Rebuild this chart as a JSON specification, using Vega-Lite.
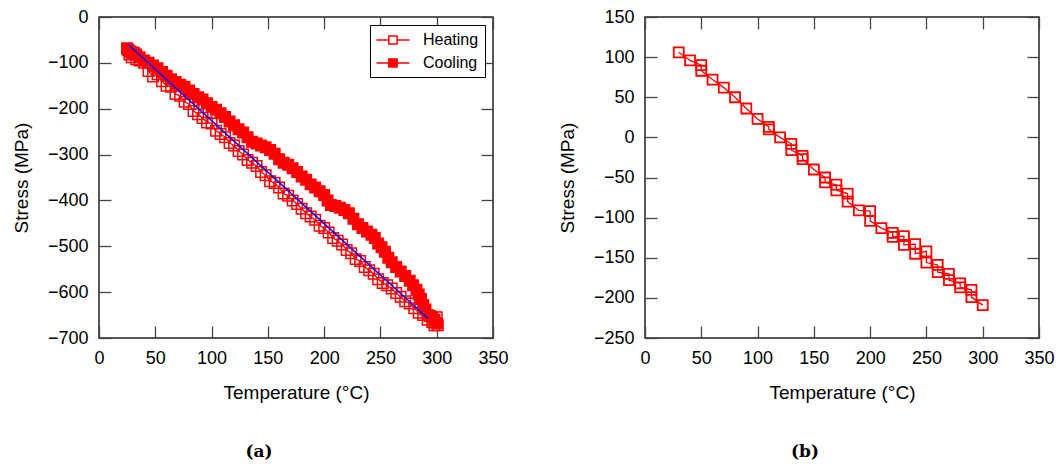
{
  "$schema": "https://vega.github.io/schema/vega-lite/v6.json",
  "padding": {"left": 11, "top": 7, "right": 0, "bottom": 0},
  "background": "white",
  "spacing": 48,
  "resolve": {"legend": {"stroke": "independent", "fill": "independent"}, "scale": {"stroke": "independent", "fill": "independent"}},
  "datasets": {
    "left": [
      {"series":"Heating","idx":0,"temp":25,"stress":-70},{"series":"Heating","idx":1,"temp":27,"stress":-82},{"series":"Heating","idx":2,"temp":29,"stress":-88},{"series":"Heating","idx":3,"temp":31,"stress":-78},{"series":"Heating","idx":4,"temp":33,"stress":-92},{"series":"Heating","idx":5,"temp":36,"stress":-95},{"series":"Heating","idx":6,"temp":40,"stress":-100},{"series":"Heating","idx":7,"temp":44,"stress":-118},{"series":"Heating","idx":8,"temp":48,"stress":-130},{"series":"Heating","idx":9,"temp":52,"stress":-125},{"series":"Heating","idx":10,"temp":56,"stress":-140},{"series":"Heating","idx":11,"temp":60,"stress":-150},{"series":"Heating","idx":12,"temp":64,"stress":-152},{"series":"Heating","idx":13,"temp":68,"stress":-168},{"series":"Heating","idx":14,"temp":72,"stress":-172},{"series":"Heating","idx":15,"temp":76,"stress":-185},{"series":"Heating","idx":16,"temp":80,"stress":-190},{"series":"Heating","idx":17,"temp":84,"stress":-205},{"series":"Heating","idx":18,"temp":88,"stress":-212},{"series":"Heating","idx":19,"temp":92,"stress":-220},{"series":"Heating","idx":20,"temp":96,"stress":-230},{"series":"Heating","idx":21,"temp":100,"stress":-232},{"series":"Heating","idx":22,"temp":104,"stress":-248},{"series":"Heating","idx":23,"temp":108,"stress":-255},{"series":"Heating","idx":24,"temp":112,"stress":-262},{"series":"Heating","idx":25,"temp":116,"stress":-275},{"series":"Heating","idx":26,"temp":120,"stress":-280},{"series":"Heating","idx":27,"temp":124,"stress":-292},{"series":"Heating","idx":28,"temp":128,"stress":-300},{"series":"Heating","idx":29,"temp":132,"stress":-312},{"series":"Heating","idx":30,"temp":136,"stress":-318},{"series":"Heating","idx":31,"temp":140,"stress":-325},{"series":"Heating","idx":32,"temp":144,"stress":-338},{"series":"Heating","idx":33,"temp":148,"stress":-345},{"series":"Heating","idx":34,"temp":152,"stress":-358},{"series":"Heating","idx":35,"temp":156,"stress":-362},{"series":"Heating","idx":36,"temp":160,"stress":-372},{"series":"Heating","idx":37,"temp":164,"stress":-385},{"series":"Heating","idx":38,"temp":168,"stress":-390},{"series":"Heating","idx":39,"temp":172,"stress":-400},{"series":"Heating","idx":40,"temp":176,"stress":-408},{"series":"Heating","idx":41,"temp":180,"stress":-418},{"series":"Heating","idx":42,"temp":184,"stress":-428},{"series":"Heating","idx":43,"temp":188,"stress":-435},{"series":"Heating","idx":44,"temp":192,"stress":-442},{"series":"Heating","idx":45,"temp":196,"stress":-455},{"series":"Heating","idx":46,"temp":200,"stress":-460},{"series":"Heating","idx":47,"temp":204,"stress":-470},{"series":"Heating","idx":48,"temp":208,"stress":-482},{"series":"Heating","idx":49,"temp":212,"stress":-488},{"series":"Heating","idx":50,"temp":216,"stress":-496},{"series":"Heating","idx":51,"temp":220,"stress":-508},{"series":"Heating","idx":52,"temp":224,"stress":-515},{"series":"Heating","idx":53,"temp":228,"stress":-528},{"series":"Heating","idx":54,"temp":232,"stress":-532},{"series":"Heating","idx":55,"temp":236,"stress":-545},{"series":"Heating","idx":56,"temp":240,"stress":-552},{"series":"Heating","idx":57,"temp":244,"stress":-560},{"series":"Heating","idx":58,"temp":248,"stress":-572},{"series":"Heating","idx":59,"temp":252,"stress":-580},{"series":"Heating","idx":60,"temp":256,"stress":-585},{"series":"Heating","idx":61,"temp":260,"stress":-592},{"series":"Heating","idx":62,"temp":264,"stress":-602},{"series":"Heating","idx":63,"temp":268,"stress":-610},{"series":"Heating","idx":64,"temp":272,"stress":-620},{"series":"Heating","idx":65,"temp":276,"stress":-625},{"series":"Heating","idx":66,"temp":280,"stress":-635},{"series":"Heating","idx":67,"temp":284,"stress":-645},{"series":"Heating","idx":68,"temp":288,"stress":-650},{"series":"Heating","idx":69,"temp":292,"stress":-660},{"series":"Heating","idx":70,"temp":296,"stress":-665},{"series":"Heating","idx":71,"temp":298,"stress":-672},{"series":"Heating","idx":72,"temp":300,"stress":-655},{"series":"Heating","idx":73,"temp":301,"stress":-672},
      {"series":"Cooling","idx":100,"temp":300,"stress":-668},{"series":"Cooling","idx":101,"temp":298,"stress":-660},{"series":"Cooling","idx":102,"temp":296,"stress":-655},{"series":"Cooling","idx":103,"temp":294,"stress":-652},{"series":"Cooling","idx":104,"temp":292,"stress":-650},{"series":"Cooling","idx":105,"temp":290,"stress":-638},{"series":"Cooling","idx":106,"temp":288,"stress":-628},{"series":"Cooling","idx":107,"temp":286,"stress":-615},{"series":"Cooling","idx":108,"temp":284,"stress":-605},{"series":"Cooling","idx":109,"temp":282,"stress":-595},{"series":"Cooling","idx":110,"temp":279,"stress":-585},{"series":"Cooling","idx":111,"temp":276,"stress":-575},{"series":"Cooling","idx":112,"temp":272,"stress":-565},{"series":"Cooling","idx":113,"temp":268,"stress":-555},{"series":"Cooling","idx":114,"temp":264,"stress":-545},{"series":"Cooling","idx":115,"temp":260,"stress":-535},{"series":"Cooling","idx":116,"temp":257,"stress":-525},{"series":"Cooling","idx":117,"temp":254,"stress":-512},{"series":"Cooling","idx":118,"temp":251,"stress":-502},{"series":"Cooling","idx":119,"temp":248,"stress":-494},{"series":"Cooling","idx":120,"temp":245,"stress":-482},{"series":"Cooling","idx":121,"temp":242,"stress":-475},{"series":"Cooling","idx":122,"temp":238,"stress":-468},{"series":"Cooling","idx":123,"temp":234,"stress":-460},{"series":"Cooling","idx":124,"temp":230,"stress":-452},{"series":"Cooling","idx":125,"temp":226,"stress":-440},{"series":"Cooling","idx":126,"temp":222,"stress":-428},{"series":"Cooling","idx":127,"temp":218,"stress":-421},{"series":"Cooling","idx":128,"temp":214,"stress":-416},{"series":"Cooling","idx":129,"temp":210,"stress":-412},{"series":"Cooling","idx":130,"temp":206,"stress":-410},{"series":"Cooling","idx":131,"temp":203,"stress":-400},{"series":"Cooling","idx":132,"temp":200,"stress":-388},{"series":"Cooling","idx":133,"temp":196,"stress":-380},{"series":"Cooling","idx":134,"temp":192,"stress":-372},{"series":"Cooling","idx":135,"temp":188,"stress":-365},{"series":"Cooling","idx":136,"temp":184,"stress":-355},{"series":"Cooling","idx":137,"temp":180,"stress":-348},{"series":"Cooling","idx":138,"temp":176,"stress":-338},{"series":"Cooling","idx":139,"temp":172,"stress":-330},{"series":"Cooling","idx":140,"temp":168,"stress":-322},{"series":"Cooling","idx":141,"temp":164,"stress":-318},{"series":"Cooling","idx":142,"temp":160,"stress":-310},{"series":"Cooling","idx":143,"temp":156,"stress":-298},{"series":"Cooling","idx":144,"temp":152,"stress":-290},{"series":"Cooling","idx":145,"temp":148,"stress":-284},{"series":"Cooling","idx":146,"temp":144,"stress":-280},{"series":"Cooling","idx":147,"temp":140,"stress":-276},{"series":"Cooling","idx":148,"temp":136,"stress":-272},{"series":"Cooling","idx":149,"temp":132,"stress":-262},{"series":"Cooling","idx":150,"temp":128,"stress":-252},{"series":"Cooling","idx":151,"temp":124,"stress":-245},{"series":"Cooling","idx":152,"temp":120,"stress":-236},{"series":"Cooling","idx":153,"temp":116,"stress":-228},{"series":"Cooling","idx":154,"temp":112,"stress":-218},{"series":"Cooling","idx":155,"temp":108,"stress":-210},{"series":"Cooling","idx":156,"temp":104,"stress":-202},{"series":"Cooling","idx":157,"temp":100,"stress":-196},{"series":"Cooling","idx":158,"temp":96,"stress":-188},{"series":"Cooling","idx":159,"temp":92,"stress":-180},{"series":"Cooling","idx":160,"temp":88,"stress":-175},{"series":"Cooling","idx":161,"temp":84,"stress":-168},{"series":"Cooling","idx":162,"temp":80,"stress":-160},{"series":"Cooling","idx":163,"temp":76,"stress":-152},{"series":"Cooling","idx":164,"temp":72,"stress":-148},{"series":"Cooling","idx":165,"temp":68,"stress":-142},{"series":"Cooling","idx":166,"temp":64,"stress":-136},{"series":"Cooling","idx":167,"temp":60,"stress":-128},{"series":"Cooling","idx":168,"temp":56,"stress":-120},{"series":"Cooling","idx":169,"temp":52,"stress":-112},{"series":"Cooling","idx":170,"temp":48,"stress":-106},{"series":"Cooling","idx":171,"temp":44,"stress":-100},{"series":"Cooling","idx":172,"temp":40,"stress":-95},{"series":"Cooling","idx":173,"temp":36,"stress":-88},{"series":"Cooling","idx":174,"temp":33,"stress":-82},{"series":"Cooling","idx":175,"temp":30,"stress":-78},{"series":"Cooling","idx":176,"temp":28,"stress":-75},{"series":"Cooling","idx":177,"temp":26,"stress":-72},{"series":"Cooling","idx":178,"temp":25,"stress":-68}
    ],
    "fit": [{"temp":26,"stress":-60},{"temp":292,"stress":-657}],
    "right": [
      {"idx":0,"temp":30,"stress":106},{"idx":1,"temp":40,"stress":96},{"idx":2,"temp":50,"stress":90},{"idx":3,"temp":50,"stress":83},{"idx":4,"temp":60,"stress":72},{"idx":5,"temp":70,"stress":62},{"idx":6,"temp":80,"stress":50},{"idx":7,"temp":90,"stress":36},{"idx":8,"temp":100,"stress":23},{"idx":9,"temp":110,"stress":13},{"idx":10,"temp":110,"stress":10},{"idx":11,"temp":120,"stress":0},{"idx":12,"temp":130,"stress":-8},{"idx":13,"temp":130,"stress":-16},{"idx":14,"temp":140,"stress":-23},{"idx":15,"temp":140,"stress":-27},{"idx":16,"temp":150,"stress":-40},{"idx":17,"temp":160,"stress":-50},{"idx":18,"temp":160,"stress":-56},{"idx":19,"temp":170,"stress":-59},{"idx":20,"temp":170,"stress":-66},{"idx":21,"temp":180,"stress":-70},{"idx":22,"temp":180,"stress":-80},{"idx":23,"temp":190,"stress":-91},{"idx":24,"temp":200,"stress":-92},{"idx":25,"temp":200,"stress":-104},{"idx":26,"temp":210,"stress":-113},{"idx":27,"temp":220,"stress":-119},{"idx":28,"temp":220,"stress":-124},{"idx":29,"temp":230,"stress":-123},{"idx":30,"temp":230,"stress":-134},{"idx":31,"temp":240,"stress":-133},{"idx":32,"temp":240,"stress":-145},{"idx":33,"temp":250,"stress":-142},{"idx":34,"temp":250,"stress":-156},{"idx":35,"temp":260,"stress":-159},{"idx":36,"temp":260,"stress":-168},{"idx":37,"temp":270,"stress":-170},{"idx":38,"temp":270,"stress":-178},{"idx":39,"temp":280,"stress":-182},{"idx":40,"temp":280,"stress":-187},{"idx":41,"temp":290,"stress":-190},{"idx":42,"temp":290,"stress":-199},{"idx":43,"temp":300,"stress":-209}
    ]
  },
  "hconcat": [
    {
      "width": 394,
      "height": 321,
      "title": {"text": "(a)", "orient": "bottom", "anchor": "middle", "frame": "group", "dx": -37, "offset": 42, "font": "DejaVu Serif", "fontWeight": "bold", "fontSize": 17, "color": "black"},
      "resolve": {"axis": {"x": "independent", "y": "independent"}},
      "layer": [
        {
          "data": {"name": "left"},
          "mark": {"type": "line", "color": "#ff0000", "strokeWidth": 1.3},
          "encoding": {
            "x": {"field": "temp", "type": "quantitative", "scale": {"domain": [0, 350], "nice": false, "zero": false},
                  "axis": {"orient": "bottom", "values": [0,50,100,150,200,250,300,350], "title": "Temperature (°C)"}},
            "y": {"field": "stress", "type": "quantitative", "scale": {"domain": [-700, 0], "nice": false, "zero": false},
                  "axis": {"orient": "left", "values": [-700,-600,-500,-400,-300,-200,-100,0], "title": "Stress (MPa)"}},
            "detail": {"field": "series"},
            "order": {"field": "idx", "type": "quantitative"}
          }
        },
        {
          "data": {"name": "left"},
          "mark": {"type": "square", "size": 110, "strokeWidth": 1.5, "opacity": 1},
          "encoding": {
            "x": {"field": "temp", "type": "quantitative", "scale": {"domain": [0, 350], "nice": false, "zero": false}, "axis": null},
            "y": {"field": "stress", "type": "quantitative", "scale": {"domain": [-700, 0], "nice": false, "zero": false}, "axis": null},
            "stroke": {"field": "series", "type": "nominal", "scale": {"domain": ["Heating", "Cooling"], "range": ["#ff0000", "#ff0000"]},
                       "legend": {"title": null, "orient": "top-right", "offset": 8, "strokeColor": "black", "fillColor": "white", "padding": 6, "labelFont": "Liberation Sans", "labelFontSize": 16, "labelColor": "black", "symbolType": "M-2,0H-0.5M0.5,0H2M-0.5,-0.5H0.5V0.5H-0.5Z", "symbolSize": 272, "symbolStrokeWidth": 1.5, "symbolOffset": 8, "labelOffset": 21, "rowPadding": 6}},
            "fill": {"field": "series", "type": "nominal", "scale": {"domain": ["Heating", "Cooling"], "range": ["transparent", "#ff0000"]},
                     "legend": {"title": null, "orient": "top-right", "offset": 8, "strokeColor": "black", "fillColor": "white", "padding": 6, "labelFont": "Liberation Sans", "labelFontSize": 16, "labelColor": "black", "symbolType": "M-2,0H-0.5M0.5,0H2M-0.5,-0.5H0.5V0.5H-0.5Z", "symbolSize": 272, "symbolStrokeWidth": 1.5, "symbolOffset": 8, "labelOffset": 21, "rowPadding": 6}}
          }
        },
        {
          "data": {"name": "fit"},
          "mark": {"type": "line", "color": "#0000ff", "strokeWidth": 1.5},
          "encoding": {
            "x": {"field": "temp", "type": "quantitative", "scale": {"domain": [0, 350], "nice": false, "zero": false},
                  "axis": {"orient": "top", "values": [0,50,100,150,200,250,300,350], "labels": false, "title": null}},
            "y": {"field": "stress", "type": "quantitative", "scale": {"domain": [-700, 0], "nice": false, "zero": false},
                  "axis": {"orient": "right", "values": [-700,-600,-500,-400,-300,-200,-100,0], "labels": false, "title": null}}
          }
        }
      ]
    },
    {
      "width": 394,
      "height": 321,
      "title": {"text": "(b)", "orient": "bottom", "anchor": "middle", "frame": "group", "dx": -37, "offset": 42, "font": "DejaVu Serif", "fontWeight": "bold", "fontSize": 17, "color": "black"},
      "resolve": {"axis": {"x": "independent", "y": "independent"}},
      "data": {"name": "right"},
      "layer": [
        {
          "mark": {"type": "line", "color": "#ff0000", "strokeWidth": 1.3},
          "encoding": {
            "x": {"field": "temp", "type": "quantitative", "scale": {"domain": [0, 350], "nice": false, "zero": false},
                  "axis": {"orient": "bottom", "values": [0,50,100,150,200,250,300,350], "title": "Temperature (°C)"}},
            "y": {"field": "stress", "type": "quantitative", "scale": {"domain": [-250, 150], "nice": false, "zero": false},
                  "axis": {"orient": "left", "values": [-250,-200,-150,-100,-50,0,50,100,150], "title": "Stress (MPa)"}},
            "order": {"field": "idx", "type": "quantitative"}
          }
        },
        {
          "mark": {"type": "point", "shape": "square", "filled": false, "color": "#ff0000", "size": 100, "strokeWidth": 1.8, "opacity": 1},
          "encoding": {
            "x": {"field": "temp", "type": "quantitative", "scale": {"domain": [0, 350], "nice": false, "zero": false},
                  "axis": {"orient": "top", "values": [0,50,100,150,200,250,300,350], "labels": false, "title": null}},
            "y": {"field": "stress", "type": "quantitative", "scale": {"domain": [-250, 150], "nice": false, "zero": false},
                  "axis": {"orient": "right", "values": [-250,-200,-150,-100,-50,0,50,100,150], "labels": false, "title": null}}
          }
        }
      ]
    }
  ],
  "config": {
    "view": {"stroke": "#222222", "strokeWidth": 1.5},
    "axis": {
      "domain": false,
      "grid": false,
      "ticks": true,
      "tickSize": -12,
      "tickWidth": 1.3,
      "tickColor": "#444444",
      "labelFont": "Liberation Sans",
      "labelFontSize": 18,
      "labelColor": "black",
      "labelPadding": 23,
      "labelFlush": false,
      "labelOverlap": false,
      "titleFont": "Liberation Sans",
      "titleFontSize": 19,
      "titleFontWeight": "normal",
      "titleColor": "black",
      "titlePadding": 16
    }
  }
}
